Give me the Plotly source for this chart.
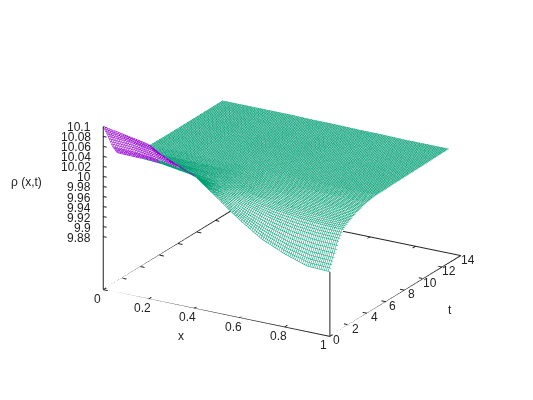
# rho(x,t) wire surface, gnuplot style
import numpy as np
import plotly.graph_objects as go

x_values = [0, 0.1, 0.2, 0.3, 0.4, 0.5, 0.6, 0.7, 0.8, 0.9, 1]
t_values = [0, 0.5, 1, 1.5, 2, 3, 4, 5, 7, 10, 12.8]
# one list per t
rho_t0 = [10.100, 10.092, 10.083, 10.056, 10.040, 10.005, 9.970, 9.940, 9.920, 9.905, 9.903]
rho_t05 = [10.075, 10.072, 10.064, 10.048, 10.027, 10.002, 9.975, 9.954, 9.938, 9.928, 9.925]
rho_t1 = [10.048, 10.046, 10.041, 10.031, 10.017, 10.001, 9.984, 9.970, 9.960, 9.954, 9.952]
rho_t15 = [10.030, 10.029, 10.026, 10.019, 10.011, 10.001, 9.990, 9.981, 9.975, 9.971, 9.970]
rho_t2 = [10.022, 10.021, 10.019, 10.014, 10.008, 10.001, 9.993, 9.986, 9.982, 9.979, 9.978]
rho_t3 = [10.012, 10.012, 10.010, 10.008, 10.005, 10.000, 9.996, 9.993, 9.990, 9.989, 9.988]
rho_t4 = [10.006, 10.006, 10.005, 10.004, 10.003, 10.000, 9.998, 9.997, 9.996, 9.995, 9.995]
rho_t5 = [10.005, 10.004, 10.004, 10.003, 10.002, 10.001, 10.000, 9.999, 9.998, 9.998, 9.998]
rho_t7 = [10.004, 10.004, 10.004, 10.003, 10.003, 10.002, 10.001, 10.000, 9.999, 9.999, 9.999]
rho_t10 = [10.004, 10.004, 10.004, 10.003, 10.003, 10.002, 10.002, 10.001, 10.000, 10.000, 10.000]
rho_t128 = [10.004, 10.004, 10.004, 10.004, 10.003, 10.003, 10.002, 10.002, 10.001, 10.001, 10.001]
# how many x cells in each t band show the underside
underside_cells = [4, 3, 2, 1]

x_ticks = [0, 0.2, 0.4, 0.6, 0.8, 1]
x_labels = ["0", "0.2", "0.4", "0.6", "0.8", "1"]
t_ticks = [0, 2, 4, 6, 8, 10, 12, 14]
z_ticks = [10.1, 10.08, 10.06, 10.04, 10.02, 10, 9.98, 9.96, 9.94, 9.92, 9.9, 9.88]
z_labels = ["10.1", "10.08", "10.06", "10.04", "10.02", "10", "9.98", "9.96", "9.94", "9.92", "9.9", "9.88"]
z_floor = 9.774

rho = np.array([rho_t0, rho_t05, rho_t1, rho_t15, rho_t2, rho_t3, rho_t4, rho_t5, rho_t7, rho_t10, rho_t128])

# split the table in two so top and underside get their own line colour
purple = np.full(rho.shape, np.nan)
green = rho.copy()
for row, cells in enumerate(underside_cells):
    purple[row:row + 2, :cells + 1] = rho[row:row + 2, :cells + 1]
    # a point stays green if it still touches a green cell
    if row == 0:
        green[0, :cells] = np.nan
    else:
        green[row, :min(cells, underside_cells[row - 1])] = np.nan


def wire(z, colour, x_step=0.008, t_step=0.125):
    return go.Surface(
        x=x_values, y=t_values, z=z,
        colorscale=[[0, "white"], [1, "white"]], showscale=False, hoverinfo="skip",
        lighting=dict(ambient=1, diffuse=0, specular=0, fresnel=0, roughness=1),
        contours=dict(
            x=dict(show=True, start=0, end=1, size=x_step, color=colour, width=1, highlight=False),
            y=dict(show=True, start=0, end=12.8, size=t_step, color=colour, width=1, highlight=False),
            z=dict(show=False, highlight=False),
        ),
    )


def lines(xs, ys, zs):
    return go.Scatter3d(x=xs, y=ys, z=zs, mode="lines", line=dict(color="#222222", width=2),
                        hoverinfo="skip", showlegend=False)


fig = go.Figure()
fig.add_trace(wire(green, "#009E73"))
fig.add_trace(wire(purple, "#9400D3"))

# border
fig.add_trace(lines([0, 1, 1, 0, 0], [0, 0, 14, 14, 0], [z_floor] * 5))
fig.add_trace(lines([0, 0], [0, 0], [z_floor, z_ticks[0]]))
fig.add_trace(lines([1, 1], [0, 0], [z_floor, rho_t0[-1]]))

# tick marks
tx, ty, tz = [], [], []
for v in x_ticks:
    tx += [v, v, None, v, v, None]
    ty += [0, 0.3, None, 14, 13.7, None]
    tz += [z_floor, z_floor, None, z_floor, z_floor, None]
for v in t_ticks:
    tx += [0, 0.02, None, 1, 0.98, None]
    ty += [v, v, None, v, v, None]
    tz += [z_floor, z_floor, None, z_floor, z_floor, None]
for v in z_ticks:
    tx += [0, 0.015, None]
    ty += [0, 0, None]
    tz += [v, v, None]
fig.add_trace(lines(tx, ty, tz))

font = dict(family="Liberation Sans", size=12, color="#222222")
notes = []
for v, label in zip(x_ticks, x_labels):
    notes.append(dict(x=v, y=0, z=z_floor, text=label, showarrow=False, font=font, xshift=-6, yshift=-9))
for v in t_ticks:
    notes.append(dict(x=1, y=v, z=z_floor, text=str(v), showarrow=False, font=font, xshift=7, yshift=-4))
for v, label in zip(z_ticks, z_labels):
    notes.append(dict(x=0, y=0, z=v, text=label, showarrow=False, font=font, xanchor="right", xshift=-10, yshift=-1))

# the page body adds an 8px margin, so the figure is 8px smaller each way
fig_w, fig_h = 525, 392
fig.update_layout(
    width=fig_w, height=fig_h, margin=dict(l=0, r=0, t=0, b=0), paper_bgcolor="white",
    showlegend=False,
    scene=dict(
        domain=dict(x=[0.044, 1], y=[0.0665, 1]),
        xaxis=dict(visible=False, range=[0, 1]),
        yaxis=dict(visible=False, range=[0, 14]),
        zaxis=dict(visible=False, range=[z_floor, 10.1]),
        aspectmode="manual",
        aspectratio=dict(x=1.43, y=1.43, z=0.955),
        camera=dict(
            projection=dict(type="orthographic"),
            up=dict(x=0, y=0, z=1),
            eye=dict(x=0.468 * 2, y=-0.81 * 2, z=0.357 * 2),
        ),
        annotations=notes,
    ),
)
for label, px, py in [("ρ (x,t)", 26, 182), ("x", 181, 336), ("t", 450, 310)]:
    fig.add_annotation(x=(px - 8) / fig_w, y=1 - (py - 8) / fig_h, xref="paper", yref="paper", text=label,
                       showarrow=False, font=font, xanchor="center", yanchor="middle")

fig.write_html("out.html")
